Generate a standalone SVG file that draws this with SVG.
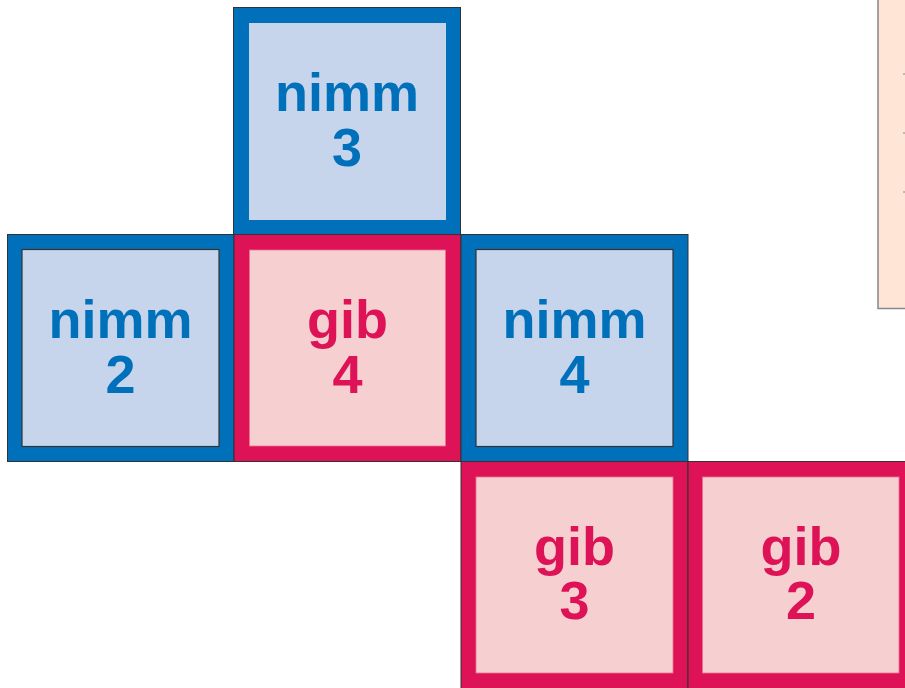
<svg xmlns="http://www.w3.org/2000/svg" width="905" height="688" viewBox="0 0 905 688">
<style>
.ob{fill:#0070BA;stroke:#333;stroke-width:1}
.op{fill:#DE1357;stroke:#333;stroke-width:1}
.ib{fill:#C6D5EC}
.ibd{fill:#C6D5EC;stroke:#333;stroke-width:1.2}
.ip{fill:#F6D0D0;stroke:#EE7090;stroke-width:0.8}
.tb{fill:#0070BA;font-family:"Liberation Sans",Arial,sans-serif;font-weight:bold;font-size:54px;text-anchor:middle}
.tp{fill:#DE1357;font-family:"Liberation Sans",Arial,sans-serif;font-weight:bold;font-size:54px;text-anchor:middle}
</style>
<rect width="905" height="688" fill="#fff"/>
<g id="panel">
<rect x="878" y="-10" width="40" height="318.5" fill="#FFE5D6" stroke="#888" stroke-width="1.5"/>
<g stroke="#888" stroke-width="1.2">
<line x1="903" y1="74" x2="905" y2="74"/>
<line x1="903" y1="133" x2="905" y2="133"/>
<line x1="903" y1="192" x2="905" y2="192"/>
</g>
</g>
<g id="nimm3">
<rect class="ob" x="233.5" y="7.5" width="227" height="227"/>
<rect class="ib" x="249" y="23" width="197" height="197"/>
<text class="tb"><tspan x="347" y="111">nimm</tspan><tspan x="347" y="166">3</tspan></text>
</g>
<g id="nimm2">
<rect class="ob" x="7.5" y="234.5" width="226.5" height="227"/>
<rect class="ibd" x="22" y="249.5" width="197" height="197"/>
<text class="tb"><tspan x="120.5" y="338">nimm</tspan><tspan x="120.5" y="393">2</tspan></text>
</g>
<g id="gib4">
<rect class="op" x="234" y="234.5" width="227" height="227"/>
<rect class="ip" x="249.5" y="250" width="196" height="196"/>
<text class="tp"><tspan x="347.5" y="338">gib</tspan><tspan x="347.5" y="393">4</tspan></text>
</g>
<g id="nimm4">
<rect class="ob" x="461" y="234.5" width="227" height="227"/>
<rect class="ibd" x="476" y="249.5" width="197" height="197"/>
<text class="tb"><tspan x="574.5" y="338">nimm</tspan><tspan x="574.5" y="393">4</tspan></text>
</g>
<g id="gib3">
<rect class="op" x="461" y="461.5" width="227" height="227"/>
<rect class="ip" x="476" y="477" width="197" height="196"/>
<text class="tp"><tspan x="574.5" y="565">gib</tspan><tspan x="574.5" y="619">3</tspan></text>
</g>
<g id="gib2">
<rect class="op" x="688" y="461.5" width="227" height="227"/>
<rect class="ip" x="702.5" y="477" width="196.5" height="196"/>
<text class="tp"><tspan x="801" y="565">gib</tspan><tspan x="801" y="619">2</tspan></text>
</g>
<g id="connectors"></g>
</svg>
